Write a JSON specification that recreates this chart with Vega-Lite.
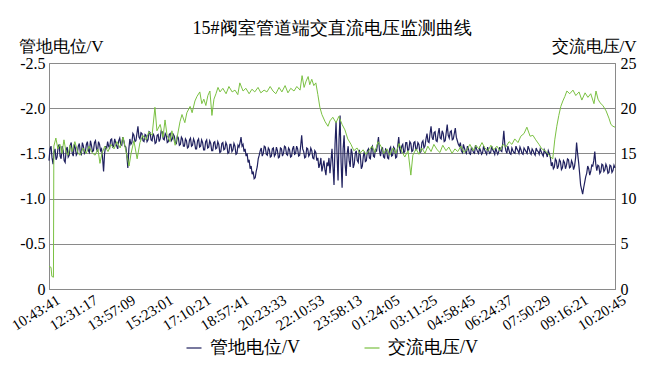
{
"$schema":"https://vega.github.io/schema/vega-lite/v6.json",
"width":566,"height":226,
"autosize":{"type":"none"},
"padding":{"left":49,"top":63,"right":40,"bottom":84},
"background":"white",
"config":{"font":"Liberation Serif","view":{"stroke":"#8a8a8a","strokeWidth":1},
"axis":{"labelColor":"black","titleColor":"black","labelFont":"Liberation Serif","titleFont":"Liberation Serif","titleFontWeight":"normal","domainColor":"#8a8a8a","ticks":false},
"axisX":{"labelOverlap":false}},
"title":{"text":"15#阀室管道端交直流电压监测曲线","fontSize":18,"fontWeight":"normal","color":"black","offset":-1,"font":"Liberation Serif"},
"datasets":{
"pot":[{"i":0,"v":-1.42},{"i":2.5,"v":-1.55},{"i":5,"v":-1.58},{"i":7.5,"v":-1.45},{"i":10,"v":-1.38},{"i":12.5,"v":-1.52},{"i":15,"v":-1.55},{"i":17.5,"v":-1.43},{"i":20,"v":-1.46},{"i":22.5,"v":-1.57},{"i":25,"v":-1.6},{"i":27.5,"v":-1.47},{"i":30,"v":-1.44},{"i":32.5,"v":-1.58},{"i":35,"v":-1.53},{"i":37.5,"v":-1.42},{"i":40,"v":-1.4},{"i":42.5,"v":-1.54},{"i":45,"v":-1.57},{"i":47.5,"v":-1.46},{"i":50,"v":-1.48},{"i":52.5,"v":-1.59},{"i":55,"v":-1.62},{"i":57.5,"v":-1.5},{"i":60,"v":-1.47},{"i":62.5,"v":-1.6},{"i":65,"v":-1.56},{"i":67.5,"v":-1.48},{"i":70,"v":-1.5},{"i":72.5,"v":-1.58},{"i":75,"v":-1.61},{"i":77.5,"v":-1.51},{"i":80,"v":-1.49},{"i":82.5,"v":-1.62},{"i":85,"v":-1.58},{"i":87.5,"v":-1.5},{"i":90,"v":-1.52},{"i":92.5,"v":-1.6},{"i":95,"v":-1.63},{"i":97.5,"v":-1.53},{"i":100,"v":-1.51},{"i":102.5,"v":-1.64},{"i":105,"v":-1.59},{"i":107.5,"v":-1.52},{"i":110,"v":-1.53},{"i":112.5,"v":-1.62},{"i":115,"v":-1.64},{"i":117.5,"v":-1.55},{"i":120,"v":-1.52},{"i":122.5,"v":-1.63},{"i":125,"v":-1.6},{"i":127.5,"v":-1.53},{"i":130,"v":-1.55},{"i":132.5,"v":-1.45},{"i":135,"v":-1.3},{"i":137.5,"v":-1.5},{"i":140,"v":-1.58},{"i":142.5,"v":-1.55},{"i":145,"v":-1.63},{"i":147.5,"v":-1.58},{"i":150,"v":-1.56},{"i":152.5,"v":-1.65},{"i":155,"v":-1.66},{"i":157.5,"v":-1.57},{"i":160,"v":-1.58},{"i":162.5,"v":-1.66},{"i":165,"v":-1.62},{"i":167.5,"v":-1.58},{"i":170,"v":-1.55},{"i":172.5,"v":-1.64},{"i":175,"v":-1.67},{"i":177.5,"v":-1.6},{"i":180,"v":-1.59},{"i":182.5,"v":-1.68},{"i":185,"v":-1.64},{"i":187.5,"v":-1.58},{"i":190,"v":-1.57},{"i":192.5,"v":-1.48},{"i":195,"v":-1.34},{"i":197.5,"v":-1.55},{"i":200,"v":-1.66},{"i":202.5,"v":-1.6},{"i":205,"v":-1.62},{"i":207.5,"v":-1.72},{"i":210,"v":-1.7},{"i":212.5,"v":-1.63},{"i":215,"v":-1.64},{"i":217.5,"v":-1.72},{"i":220,"v":-1.8},{"i":222.5,"v":-1.68},{"i":225,"v":-1.66},{"i":227.5,"v":-1.73},{"i":230,"v":-1.72},{"i":232.5,"v":-1.64},{"i":235,"v":-1.63},{"i":237.5,"v":-1.71},{"i":240,"v":-1.7},{"i":242.5,"v":-1.63},{"i":245,"v":-1.65},{"i":247.5,"v":-1.74},{"i":250,"v":-1.73},{"i":252.5,"v":-1.65},{"i":255,"v":-1.64},{"i":257.5,"v":-1.72},{"i":260,"v":-1.69},{"i":262.5,"v":-1.61},{"i":265,"v":-1.62},{"i":267.5,"v":-1.7},{"i":270,"v":-1.71},{"i":272.5,"v":-1.63},{"i":275,"v":-1.66},{"i":277.5,"v":-1.75},{"i":280,"v":-1.74},{"i":282.5,"v":-1.66},{"i":285,"v":-1.65},{"i":287.5,"v":-1.72},{"i":290,"v":-1.7},{"i":292.5,"v":-1.62},{"i":295,"v":-1.63},{"i":297.5,"v":-1.71},{"i":300,"v":-1.72},{"i":302.5,"v":-1.64},{"i":305,"v":-1.66},{"i":307.5,"v":-1.71},{"i":310,"v":-1.69},{"i":312.5,"v":-1.62},{"i":315,"v":-1.61},{"i":317.5,"v":-1.69},{"i":320,"v":-1.67},{"i":322.5,"v":-1.59},{"i":325,"v":-1.6},{"i":327.5,"v":-1.68},{"i":330,"v":-1.66},{"i":332.5,"v":-1.58},{"i":335,"v":-1.58},{"i":337.5,"v":-1.66},{"i":340,"v":-1.64},{"i":342.5,"v":-1.56},{"i":345,"v":-1.57},{"i":347.5,"v":-1.65},{"i":350,"v":-1.67},{"i":352.5,"v":-1.58},{"i":355,"v":-1.59},{"i":357.5,"v":-1.66},{"i":360,"v":-1.63},{"i":362.5,"v":-1.55},{"i":365,"v":-1.55},{"i":367.5,"v":-1.64},{"i":370,"v":-1.66},{"i":372.5,"v":-1.57},{"i":375,"v":-1.58},{"i":377.5,"v":-1.65},{"i":380,"v":-1.62},{"i":382.5,"v":-1.54},{"i":385,"v":-1.54},{"i":387.5,"v":-1.63},{"i":390,"v":-1.65},{"i":392.5,"v":-1.56},{"i":395,"v":-1.57},{"i":397.5,"v":-1.64},{"i":400,"v":-1.61},{"i":402.5,"v":-1.53},{"i":405,"v":-1.53},{"i":407.5,"v":-1.62},{"i":410,"v":-1.63},{"i":412.5,"v":-1.55},{"i":415,"v":-1.56},{"i":417.5,"v":-1.63},{"i":420,"v":-1.6},{"i":422.5,"v":-1.51},{"i":425,"v":-1.52},{"i":427.5,"v":-1.61},{"i":430,"v":-1.62},{"i":432.5,"v":-1.54},{"i":435,"v":-1.55},{"i":437.5,"v":-1.62},{"i":440,"v":-1.59},{"i":442.5,"v":-1.5},{"i":445,"v":-1.51},{"i":447.5,"v":-1.6},{"i":450,"v":-1.6},{"i":452.5,"v":-1.52},{"i":455,"v":-1.54},{"i":457.5,"v":-1.61},{"i":460,"v":-1.58},{"i":462.5,"v":-1.49},{"i":465,"v":-1.5},{"i":467.5,"v":-1.59},{"i":470,"v":-1.57},{"i":472.5,"v":-1.62},{"i":475,"v":-1.68},{"i":477.5,"v":-1.58},{"i":480,"v":-1.6},{"i":482.5,"v":-1.52},{"i":485,"v":-1.55},{"i":487.5,"v":-1.47},{"i":490,"v":-1.5},{"i":492.5,"v":-1.4},{"i":495,"v":-1.43},{"i":497.5,"v":-1.33},{"i":500,"v":-1.36},{"i":502.5,"v":-1.27},{"i":505,"v":-1.3},{"i":507.5,"v":-1.22},{"i":510,"v":-1.23},{"i":512.5,"v":-1.3},{"i":515,"v":-1.35},{"i":517.5,"v":-1.44},{"i":520,"v":-1.48},{"i":522.5,"v":-1.53},{"i":525,"v":-1.56},{"i":527.5,"v":-1.47},{"i":530,"v":-1.5},{"i":532.5,"v":-1.58},{"i":535,"v":-1.57},{"i":537.5,"v":-1.49},{"i":540,"v":-1.48},{"i":542.5,"v":-1.56},{"i":545,"v":-1.54},{"i":547.5,"v":-1.46},{"i":550,"v":-1.47},{"i":552.5,"v":-1.55},{"i":555,"v":-1.56},{"i":557.5,"v":-1.47},{"i":560,"v":-1.49},{"i":562.5,"v":-1.57},{"i":565,"v":-1.53},{"i":567.5,"v":-1.45},{"i":570,"v":-1.46},{"i":572.5,"v":-1.56},{"i":575,"v":-1.55},{"i":577.5,"v":-1.47},{"i":580,"v":-1.5},{"i":582.5,"v":-1.58},{"i":585,"v":-1.57},{"i":587.5,"v":-1.49},{"i":590,"v":-1.48},{"i":592.5,"v":-1.56},{"i":595,"v":-1.54},{"i":597.5,"v":-1.46},{"i":600,"v":-1.47},{"i":602.5,"v":-1.55},{"i":605,"v":-1.58},{"i":607.5,"v":-1.49},{"i":610,"v":-1.5},{"i":612.5,"v":-1.58},{"i":615,"v":-1.55},{"i":617.5,"v":-1.47},{"i":620,"v":-1.48},{"i":622.5,"v":-1.58},{"i":625,"v":-1.7},{"i":627.5,"v":-1.55},{"i":630,"v":-1.52},{"i":632.5,"v":-1.45},{"i":635,"v":-1.46},{"i":637.5,"v":-1.56},{"i":640,"v":-1.55},{"i":642.5,"v":-1.47},{"i":645,"v":-1.49},{"i":647.5,"v":-1.56},{"i":650,"v":-1.53},{"i":652.5,"v":-1.45},{"i":655,"v":-1.44},{"i":657.5,"v":-1.53},{"i":660,"v":-1.51},{"i":662.5,"v":-1.42},{"i":665,"v":-1.45},{"i":667.5,"v":-1.34},{"i":670,"v":-1.38},{"i":672.5,"v":-1.45},{"i":675,"v":-1.3},{"i":677.5,"v":-1.36},{"i":680,"v":-1.42},{"i":682.5,"v":-1.32},{"i":685,"v":-1.26},{"i":687.5,"v":-1.4},{"i":690,"v":-1.36},{"i":692.5,"v":-1.45},{"i":695,"v":-1.28},{"i":697.5,"v":-1.42},{"i":700,"v":-1.55},{"i":702.5,"v":-1.35},{"i":705,"v":-1.15},{"i":707.5,"v":-1.6},{"i":710,"v":-1.85},{"i":712.5,"v":-1.48},{"i":715,"v":-1.2},{"i":717.5,"v":-1.66},{"i":720,"v":-1.92},{"i":722.5,"v":-1.4},{"i":725,"v":-1.12},{"i":727.5,"v":-1.55},{"i":730,"v":-1.7},{"i":732.5,"v":-1.38},{"i":735,"v":-1.25},{"i":737.5,"v":-1.5},{"i":740,"v":-1.58},{"i":742.5,"v":-1.42},{"i":745,"v":-1.35},{"i":747.5,"v":-1.55},{"i":750,"v":-1.5},{"i":752.5,"v":-1.34},{"i":755,"v":-1.38},{"i":757.5,"v":-1.5},{"i":760,"v":-1.53},{"i":762.5,"v":-1.42},{"i":765,"v":-1.4},{"i":767.5,"v":-1.54},{"i":770,"v":-1.48},{"i":772.5,"v":-1.33},{"i":775,"v":-1.36},{"i":777.5,"v":-1.47},{"i":780,"v":-1.52},{"i":782.5,"v":-1.41},{"i":785,"v":-1.42},{"i":787.5,"v":-1.53},{"i":790,"v":-1.55},{"i":792.5,"v":-1.45},{"i":795,"v":-1.44},{"i":797.5,"v":-1.56},{"i":800,"v":-1.58},{"i":802.5,"v":-1.47},{"i":805,"v":-1.46},{"i":807.5,"v":-1.55},{"i":810,"v":-1.52},{"i":812.5,"v":-1.6},{"i":815,"v":-1.68},{"i":817.5,"v":-1.53},{"i":820,"v":-1.47},{"i":822.5,"v":-1.55},{"i":825,"v":-1.56},{"i":827.5,"v":-1.46},{"i":830,"v":-1.45},{"i":832.5,"v":-1.55},{"i":835,"v":-1.54},{"i":837.5,"v":-1.45},{"i":840,"v":-1.44},{"i":842.5,"v":-1.55},{"i":845,"v":-1.57},{"i":847.5,"v":-1.47},{"i":850,"v":-1.48},{"i":852.5,"v":-1.57},{"i":855,"v":-1.55},{"i":857.5,"v":-1.45},{"i":860,"v":-1.46},{"i":862.5,"v":-1.58},{"i":865,"v":-1.68},{"i":867.5,"v":-1.55},{"i":870,"v":-1.5},{"i":872.5,"v":-1.58},{"i":875,"v":-1.6},{"i":877.5,"v":-1.51},{"i":880,"v":-1.52},{"i":882.5,"v":-1.62},{"i":885,"v":-1.62},{"i":887.5,"v":-1.53},{"i":890,"v":-1.54},{"i":892.5,"v":-1.63},{"i":895,"v":-1.61},{"i":897.5,"v":-1.52},{"i":900,"v":-1.53},{"i":902.5,"v":-1.62},{"i":905,"v":-1.63},{"i":907.5,"v":-1.54},{"i":910,"v":-1.55},{"i":912.5,"v":-1.62},{"i":915,"v":-1.6},{"i":917.5,"v":-1.51},{"i":920,"v":-1.52},{"i":922.5,"v":-1.62},{"i":925,"v":-1.64},{"i":927.5,"v":-1.56},{"i":930,"v":-1.58},{"i":932.5,"v":-1.66},{"i":935,"v":-1.72},{"i":937.5,"v":-1.63},{"i":940,"v":-1.62},{"i":942.5,"v":-1.72},{"i":945,"v":-1.8},{"i":947.5,"v":-1.68},{"i":950,"v":-1.65},{"i":952.5,"v":-1.73},{"i":955,"v":-1.74},{"i":957.5,"v":-1.64},{"i":960,"v":-1.63},{"i":962.5,"v":-1.72},{"i":965,"v":-1.78},{"i":967.5,"v":-1.67},{"i":970,"v":-1.66},{"i":972.5,"v":-1.75},{"i":975,"v":-1.72},{"i":977.5,"v":-1.63},{"i":980,"v":-1.64},{"i":982.5,"v":-1.73},{"i":985,"v":-1.82},{"i":987.5,"v":-1.7},{"i":990,"v":-1.67},{"i":992.5,"v":-1.74},{"i":995,"v":-1.75},{"i":997.5,"v":-1.65},{"i":1000,"v":-1.66},{"i":1002.5,"v":-1.72},{"i":1005,"v":-1.78},{"i":1007.5,"v":-1.68},{"i":1010,"v":-1.64},{"i":1012.5,"v":-1.6},{"i":1015,"v":-1.58},{"i":1017.5,"v":-1.62},{"i":1020,"v":-1.53},{"i":1022.5,"v":-1.51},{"i":1025,"v":-1.6},{"i":1027.5,"v":-1.56},{"i":1030,"v":-1.52},{"i":1032.5,"v":-1.5},{"i":1035,"v":-1.58},{"i":1037.5,"v":-1.55},{"i":1040,"v":-1.5},{"i":1042.5,"v":-1.49},{"i":1045,"v":-1.57},{"i":1047.5,"v":-1.54},{"i":1050,"v":-1.51},{"i":1052.5,"v":-1.5},{"i":1055,"v":-1.59},{"i":1057.5,"v":-1.55},{"i":1060,"v":-1.52},{"i":1062.5,"v":-1.5},{"i":1065,"v":-1.56},{"i":1067.5,"v":-1.53},{"i":1070,"v":-1.49},{"i":1072.5,"v":-1.51},{"i":1075,"v":-1.58},{"i":1077.5,"v":-1.54},{"i":1080,"v":-1.51},{"i":1082.5,"v":-1.49},{"i":1085,"v":-1.57},{"i":1087.5,"v":-1.53},{"i":1090,"v":-1.5},{"i":1092.5,"v":-1.51},{"i":1095,"v":-1.58},{"i":1097.5,"v":-1.54},{"i":1100,"v":-1.52},{"i":1102.5,"v":-1.49},{"i":1105,"v":-1.56},{"i":1107.5,"v":-1.52},{"i":1110,"v":-1.49},{"i":1112.5,"v":-1.52},{"i":1115,"v":-1.57},{"i":1117.5,"v":-1.53},{"i":1120,"v":-1.52},{"i":1122.5,"v":-1.62},{"i":1125,"v":-1.75},{"i":1127.5,"v":-1.6},{"i":1130,"v":-1.53},{"i":1132.5,"v":-1.5},{"i":1135,"v":-1.58},{"i":1137.5,"v":-1.54},{"i":1140,"v":-1.5},{"i":1142.5,"v":-1.49},{"i":1145,"v":-1.56},{"i":1147.5,"v":-1.53},{"i":1150,"v":-1.51},{"i":1152.5,"v":-1.5},{"i":1155,"v":-1.58},{"i":1157.5,"v":-1.55},{"i":1160,"v":-1.53},{"i":1162.5,"v":-1.5},{"i":1165,"v":-1.57},{"i":1167.5,"v":-1.54},{"i":1170,"v":-1.5},{"i":1172.5,"v":-1.49},{"i":1175,"v":-1.56},{"i":1177.5,"v":-1.54},{"i":1180,"v":-1.52},{"i":1182.5,"v":-1.5},{"i":1185,"v":-1.58},{"i":1187.5,"v":-1.55},{"i":1190,"v":-1.51},{"i":1192.5,"v":-1.49},{"i":1195,"v":-1.55},{"i":1197.5,"v":-1.53},{"i":1200,"v":-1.5},{"i":1202.5,"v":-1.48},{"i":1205,"v":-1.56},{"i":1207.5,"v":-1.53},{"i":1210,"v":-1.52},{"i":1212.5,"v":-1.49},{"i":1215,"v":-1.55},{"i":1217.5,"v":-1.52},{"i":1220,"v":-1.49},{"i":1222.5,"v":-1.47},{"i":1225,"v":-1.54},{"i":1227.5,"v":-1.51},{"i":1230,"v":-1.5},{"i":1232.5,"v":-1.46},{"i":1235,"v":-1.53},{"i":1237.5,"v":-1.5},{"i":1240,"v":-1.46},{"i":1242.5,"v":-1.36},{"i":1245,"v":-1.4},{"i":1247.5,"v":-1.33},{"i":1250,"v":-1.35},{"i":1252.5,"v":-1.44},{"i":1255,"v":-1.42},{"i":1257.5,"v":-1.33},{"i":1260,"v":-1.36},{"i":1262.5,"v":-1.43},{"i":1265,"v":-1.41},{"i":1267.5,"v":-1.32},{"i":1270,"v":-1.34},{"i":1272.5,"v":-1.42},{"i":1275,"v":-1.4},{"i":1277.5,"v":-1.33},{"i":1280,"v":-1.37},{"i":1282.5,"v":-1.44},{"i":1285,"v":-1.43},{"i":1287.5,"v":-1.34},{"i":1290,"v":-1.35},{"i":1292.5,"v":-1.42},{"i":1295,"v":-1.39},{"i":1297.5,"v":-1.32},{"i":1300,"v":-1.36},{"i":1302.5,"v":-1.45},{"i":1305,"v":-1.62},{"i":1307.5,"v":-1.5},{"i":1310,"v":-1.4},{"i":1312.5,"v":-1.28},{"i":1315,"v":-1.15},{"i":1317.5,"v":-1.1},{"i":1320,"v":-1.05},{"i":1322.5,"v":-1.12},{"i":1325,"v":-1.18},{"i":1327.5,"v":-1.24},{"i":1330,"v":-1.28},{"i":1332.5,"v":-1.36},{"i":1335,"v":-1.33},{"i":1337.5,"v":-1.26},{"i":1340,"v":-1.3},{"i":1342.5,"v":-1.37},{"i":1345,"v":-1.36},{"i":1347.5,"v":-1.42},{"i":1350,"v":-1.52},{"i":1352.5,"v":-1.38},{"i":1355,"v":-1.31},{"i":1357.5,"v":-1.37},{"i":1360,"v":-1.36},{"i":1362.5,"v":-1.28},{"i":1365,"v":-1.3},{"i":1367.5,"v":-1.38},{"i":1370,"v":-1.37},{"i":1372.5,"v":-1.3},{"i":1375,"v":-1.32},{"i":1377.5,"v":-1.38},{"i":1380,"v":-1.35},{"i":1382.5,"v":-1.28},{"i":1385,"v":-1.29},{"i":1387.5,"v":-1.37},{"i":1390,"v":-1.36},{"i":1392.5,"v":-1.29},{"i":1395,"v":-1.31},{"i":1397.5,"v":-1.37},{"i":1400,"v":-1.34}],
"ac":[{"i":0,"v":2.5},{"i":5,"v":2.4},{"i":7,"v":1.4},{"i":11,"v":1.3},{"i":12,"v":15.8},{"i":17,"v":16.7},{"i":22,"v":15.5},{"i":27,"v":16.0},{"i":32,"v":15.0},{"i":37,"v":16.5},{"i":42,"v":15.2},{"i":47,"v":14.8},{"i":52,"v":15.9},{"i":57,"v":15.2},{"i":64,"v":16.3},{"i":72,"v":15.0},{"i":77,"v":14.8},{"i":84,"v":15.6},{"i":92,"v":15.0},{"i":99,"v":15.8},{"i":106,"v":15.1},{"i":114,"v":14.8},{"i":121,"v":15.5},{"i":126,"v":13.9},{"i":131,"v":15.0},{"i":138,"v":15.8},{"i":146,"v":15.2},{"i":153,"v":16.0},{"i":161,"v":15.5},{"i":168,"v":16.3},{"i":176,"v":15.6},{"i":183,"v":16.8},{"i":190,"v":15.3},{"i":198,"v":13.6},{"i":203,"v":15.0},{"i":210,"v":16.4},{"i":218,"v":14.4},{"i":225,"v":16.2},{"i":232,"v":17.0},{"i":240,"v":16.5},{"i":247,"v":17.4},{"i":255,"v":17.0},{"i":262,"v":20.1},{"i":267,"v":17.5},{"i":275,"v":18.2},{"i":282,"v":16.8},{"i":287,"v":18.7},{"i":292,"v":17.0},{"i":299,"v":16.3},{"i":304,"v":17.5},{"i":312,"v":15.9},{"i":317,"v":16.8},{"i":324,"v":18.5},{"i":329,"v":19.3},{"i":336,"v":18.4},{"i":341,"v":19.5},{"i":349,"v":20.2},{"i":354,"v":19.5},{"i":361,"v":20.8},{"i":366,"v":21.3},{"i":373,"v":21.8},{"i":378,"v":20.5},{"i":383,"v":21.0},{"i":388,"v":20.3},{"i":393,"v":21.4},{"i":398,"v":21.9},{"i":403,"v":19.2},{"i":408,"v":21.0},{"i":413,"v":21.6},{"i":418,"v":22.3},{"i":423,"v":21.8},{"i":430,"v":22.2},{"i":438,"v":21.6},{"i":445,"v":22.4},{"i":453,"v":21.8},{"i":460,"v":22.0},{"i":467,"v":21.5},{"i":472,"v":22.8},{"i":480,"v":21.9},{"i":487,"v":22.2},{"i":495,"v":21.6},{"i":502,"v":22.1},{"i":509,"v":21.8},{"i":517,"v":22.3},{"i":524,"v":21.7},{"i":532,"v":22.0},{"i":539,"v":21.8},{"i":547,"v":22.4},{"i":554,"v":21.9},{"i":561,"v":21.6},{"i":569,"v":22.3},{"i":576,"v":21.8},{"i":584,"v":22.5},{"i":591,"v":21.7},{"i":598,"v":22.2},{"i":606,"v":21.9},{"i":613,"v":22.4},{"i":621,"v":22.0},{"i":626,"v":23.6},{"i":631,"v":22.3},{"i":636,"v":23.0},{"i":641,"v":23.5},{"i":645,"v":22.6},{"i":650,"v":23.2},{"i":655,"v":22.5},{"i":660,"v":22.8},{"i":665,"v":21.5},{"i":670,"v":20.1},{"i":675,"v":19.3},{"i":683,"v":18.5},{"i":690,"v":18.0},{"i":695,"v":18.6},{"i":702,"v":19.0},{"i":710,"v":18.4},{"i":717,"v":19.1},{"i":725,"v":18.2},{"i":732,"v":17.6},{"i":739,"v":16.6},{"i":747,"v":16.0},{"i":754,"v":15.3},{"i":762,"v":15.6},{"i":769,"v":15.0},{"i":777,"v":15.4},{"i":784,"v":14.9},{"i":791,"v":15.3},{"i":799,"v":15.8},{"i":806,"v":15.1},{"i":814,"v":16.3},{"i":821,"v":15.8},{"i":828,"v":15.0},{"i":836,"v":15.5},{"i":843,"v":14.8},{"i":851,"v":15.6},{"i":858,"v":15.0},{"i":866,"v":16.1},{"i":873,"v":15.2},{"i":880,"v":14.6},{"i":888,"v":15.3},{"i":895,"v":12.6},{"i":900,"v":14.8},{"i":908,"v":15.5},{"i":915,"v":14.9},{"i":922,"v":15.6},{"i":930,"v":15.0},{"i":937,"v":15.8},{"i":945,"v":15.2},{"i":952,"v":16.0},{"i":960,"v":15.4},{"i":967,"v":15.1},{"i":974,"v":15.9},{"i":982,"v":15.3},{"i":989,"v":15.7},{"i":997,"v":15.0},{"i":1004,"v":15.5},{"i":1011,"v":15.2},{"i":1019,"v":15.8},{"i":1026,"v":15.1},{"i":1034,"v":15.4},{"i":1041,"v":16.0},{"i":1049,"v":15.3},{"i":1056,"v":15.9},{"i":1063,"v":15.5},{"i":1071,"v":16.2},{"i":1078,"v":15.6},{"i":1086,"v":15.3},{"i":1093,"v":15.9},{"i":1100,"v":15.4},{"i":1108,"v":15.8},{"i":1115,"v":15.3},{"i":1123,"v":16.0},{"i":1130,"v":15.7},{"i":1138,"v":16.3},{"i":1145,"v":16.0},{"i":1152,"v":16.6},{"i":1160,"v":16.2},{"i":1167,"v":16.9},{"i":1175,"v":17.2},{"i":1182,"v":17.9},{"i":1190,"v":16.9},{"i":1197,"v":17.0},{"i":1204,"v":16.5},{"i":1212,"v":16.0},{"i":1219,"v":15.5},{"i":1227,"v":15.3},{"i":1234,"v":15.0},{"i":1241,"v":14.6},{"i":1246,"v":14.4},{"i":1251,"v":16.5},{"i":1256,"v":18.0},{"i":1261,"v":19.2},{"i":1266,"v":20.2},{"i":1271,"v":20.8},{"i":1276,"v":21.3},{"i":1281,"v":21.9},{"i":1288,"v":21.6},{"i":1296,"v":22.0},{"i":1303,"v":21.4},{"i":1311,"v":21.8},{"i":1318,"v":20.9},{"i":1326,"v":21.7},{"i":1333,"v":21.2},{"i":1340,"v":21.6},{"i":1348,"v":20.5},{"i":1353,"v":21.9},{"i":1358,"v":21.0},{"i":1363,"v":20.6},{"i":1370,"v":20.3},{"i":1378,"v":19.7},{"i":1385,"v":18.9},{"i":1390,"v":18.2},{"i":1395,"v":18.0},{"i":1400,"v":17.9}]
},
"encoding":{
"x":{"field":"i","type":"quantitative","scale":{"domain":[0,1400],"nice":false,"zero":false},
"axis":{"title":null,"grid":false,"values":[0,93.333,186.667,280,373.333,466.667,560,653.333,746.667,840,933.333,1026.667,1120,1213.333,1306.667,1400],
"labelExpr":"['10:43:41','12:31:17','13:57:09','15:23:01','17:10:21','18:57:41','20:23:33','22:10:53','23:58:13','01:24:05','03:11:25','04:58:45','06:24:37','07:50:29','09:16:21','10:20:45'][round(datum.value/93.3333)]",
"labelAngle":-32,"labelFontSize":15,"labelAlign":"right","labelBaseline":"middle","labelPadding":9,"labelOffset":9,"labelOverlap":false,"labelBound":false,"labelFlush":false}}
},
"layer":[
{"data":{"name":"pot"},"mark":{"type":"line","strokeWidth":1.2},
"encoding":{
"y":{"field":"v","type":"quantitative","scale":{"domain":[-2.5,0],"reverse":true,"nice":false},
"axis":{"orient":"left","values":[-2.5,-2,-1.5,-1,-0.5,0],"labelExpr":"datum.value == 0 ? '0' : replace(format(datum.value, '.1f'), '\u2212', '-')","grid":true,"gridColor":"#8a8a8a","gridWidth":1,"labelFontSize":16,"labelPadding":4,
"title":"管地电位/V","titleAngle":0,"titleX":-31,"titleY":-12,"titleAlign":"left","titleBaseline":"alphabetic","titleFontSize":17}},
"color":{"datum":"管地电位/V","type":"nominal","scale":{"domain":["管地电位/V","交流电压/V"],"range":["#20215f","#7bc143"]},
"legend":{"title":null,"orient":"none","legendX":136,"legendY":276,"direction":"horizontal","symbolType":"stroke","symbolSize":225,"symbolStrokeWidth":2,"symbolOpacity":0.6,"labelFontSize":18,"labelFont":"Liberation Serif","labelColor":"black","columnPadding":60,"labelOffset":7}}
}},
{"data":{"name":"ac"},"mark":{"type":"line","strokeWidth":1},
"encoding":{
"y":{"field":"v","type":"quantitative","scale":{"domain":[0,25],"nice":false},
"axis":{"orient":"right","values":[0,5,10,15,20,25],"grid":false,"labelFontSize":16,"labelPadding":5,
"title":"交流电压/V","titleAngle":0,"titleX":21,"titleY":-12,"titleAlign":"right","titleBaseline":"alphabetic","titleFontSize":17}},
"color":{"datum":"交流电压/V","type":"nominal"}
}}
],
"resolve":{"scale":{"y":"independent"}}
}
